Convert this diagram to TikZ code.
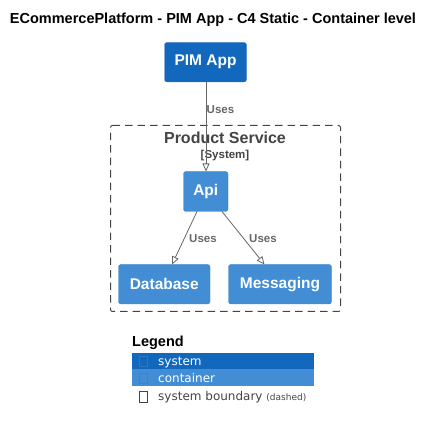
\documentclass[tikz,border=0pt]{standalone}
\usepackage{fontspec}
\setmainfont{Liberation Sans}
\newfontfamily\legfont{DejaVu Sans}
\usetikzlibrary{arrows.meta}
\definecolor{sysc}{HTML}{1168BD}
\definecolor{conc}{HTML}{438DD5}
\definecolor{bordc}{HTML}{3C7FC0}
\definecolor{relc}{HTML}{666666}
\definecolor{txtc}{HTML}{444444}
\begin{document}
\begin{tikzpicture}[x=1pt,y=-1pt,
  sysbox/.style={draw=bordc,fill=sysc,rounded corners=2.5pt,text=white,font=\bfseries\fontsize{15.5}{18}\selectfont},
  conbox/.style={draw=bordc,fill=conc,rounded corners=2.5pt,text=white,font=\bfseries\fontsize{15.5}{18}\selectfont},
  rel/.style={draw=relc,line width=0.8pt,-{Triangle[open,length=8pt,width=7pt]}},
  rellabel/.style={text=relc,font=\bfseries\fontsize{11.5}{13}\selectfont,inner sep=0pt},
  legtext/.style={font=\legfont\fontsize{12}{14}\selectfont,anchor=base west,inner sep=0pt}
]
\useasboundingbox (0,0) rectangle (434,430);
\node[font=\bfseries\fontsize{14.5}{16}\selectfont] (title) at (213,20) {ECommercePlatform - PIM App - C4 Static - Container level};

% boundary
\draw[txtc,line width=1pt,dash pattern=on 7.5pt off 5pt,rounded corners=2pt] (110.5,125.5) -- (340.5,125.5) -- (340.5,311.5) -- (110.5,311.5) -- cycle;
\node[text=txtc,font=\bfseries\fontsize{16}{18}\selectfont] (bt) at (225,138) {Product Service};
\node[text=txtc,font=\bfseries\fontsize{11.5}{13}\selectfont] (bs) at (225,156) {[System]};

% nodes
\path[sysbox] (164.5,42.5) rectangle (246.5,82) node[midway,draw=none,fill=none] (pimt) {PIM App};
\coordinate (pimB) at (206,82);
\path[conbox] (183.5,171.5) rectangle (228,211.5) node[midway,draw=none,fill=none] (apit) {Api};
\coordinate (apiT) at (206,171.5);
\coordinate (apiBL) at (197,211.5);
\coordinate (apiBR) at (222,211.5);
\path[conbox] (118.5,264.5) rectangle (210,304) node[midway,draw=none,fill=none] (dbt) {Database};
\coordinate (dbT) at (172,264.5);
\path[conbox] (228.5,264.5) rectangle (331.5,304) node[midway,draw=none,fill=none] (mst) {Messaging};
\coordinate (msT) at (264.5,264.5);

% relations
\draw[rel] (pimB) -- (apiT);
\draw[rel] (apiBL) -- (dbT);
\draw[rel] (apiBR) -- (msT);
\node[rellabel,anchor=west] (l1) at (206.5,110) {Uses};
\node[rellabel,anchor=west] (l2) at (189,239) {Uses};
\node[rellabel,anchor=west] (l3) at (249,239) {Uses};

% legend
\node[font=\bfseries\fontsize{14.5}{16}\selectfont,anchor=west,inner sep=0pt] (leg) at (132,343) {Legend};
\fill[sysc] (132,353) rectangle (314,369);
\fill[conc] (132,369) rectangle (314,386);
\draw[bordc!70!sysc,line width=0.6pt] (139.5,356.5) rectangle (147.5,366.5);
\draw[bordc!80!conc,line width=0.6pt] (139.5,373) rectangle (147.5,383);
\draw[txtc,line width=0.6pt] (139.5,391.5) rectangle (147.5,402.5);
\node[legtext,text=white] (lsys) at (158,365.5) {system};
\node[legtext,text=white] (lcon) at (158,382.5) {container};
\node[legtext,text=txtc] (lbnd) at (158,400.5) {system boundary \fontsize{9}{10}\selectfont(dashed)};
\end{tikzpicture}
\end{document}
